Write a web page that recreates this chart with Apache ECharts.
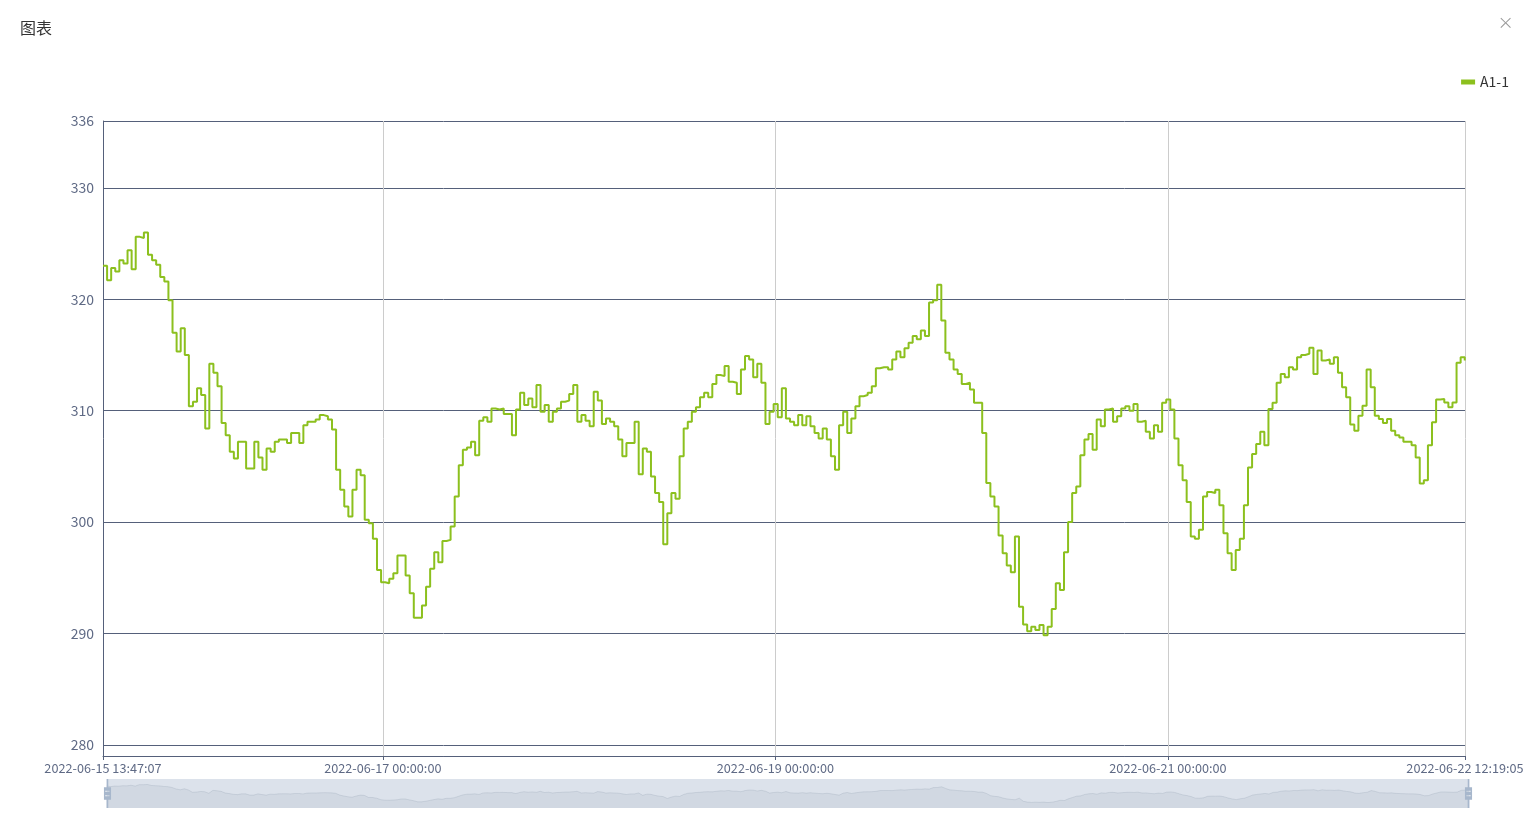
<!DOCTYPE html>
<html><head><meta charset="utf-8">
<script src="https://cdn.jsdelivr.net/npm/echarts@6/dist/echarts.min.js"></script>
<style>html,body{margin:0;padding:0;background:#fff}#c{width:1524px;height:824px}</style>
</head><body><div id="c"></div>
<script>
const chartTitle = '图表';
const closeGlyph = '×';
const seriesName = 'A1-1';
const startTime = '2022-06-15 13:47:07';
const endTime = '2022-06-22 12:19:05';
const xTickTimes = ['2022-06-15 13:47:07', '2022-06-17 00:00:00', '2022-06-19 00:00:00', '2022-06-21 00:00:00', '2022-06-22 12:19:05'];
const sampleStepMinutes = 30;
const yMin = 279;
const yMax = 336;
const values = [
323.0,321.7,322.8,322.5,323.5,323.2,324.4,322.7,325.6,325.5,
326.0,324.0,323.5,323.1,322.0,321.6,319.9,317.0,315.3,317.4,
315.0,310.4,310.8,312.0,311.4,308.4,314.2,313.4,312.2,308.9,
307.8,306.3,305.7,307.2,307.2,304.8,304.8,307.2,305.8,304.7,
306.6,306.3,307.2,307.4,307.4,307.1,308.0,308.0,307.1,308.7,
309.0,309.0,309.2,309.6,309.5,309.2,308.3,304.7,302.9,301.4,
300.5,302.9,304.7,304.2,300.2,299.9,298.5,295.7,294.6,294.5,
294.9,295.4,297.0,297.0,295.2,293.6,291.4,291.4,292.5,294.2,
295.8,297.3,296.4,298.3,298.4,299.6,302.3,305.1,306.5,306.7,
307.2,306.0,309.1,309.4,309.0,310.2,310.1,310.2,309.7,309.7,
307.8,310.1,311.6,310.5,311.1,310.3,312.3,309.9,310.5,309.0,
309.9,310.2,310.8,310.9,311.5,312.3,309.0,309.6,309.1,308.6,
311.7,310.9,308.8,309.3,309.0,308.6,307.4,305.9,307.1,307.1,
309.0,304.3,306.6,306.3,304.1,302.6,301.8,298.0,300.8,302.6,
302.1,305.9,308.4,309.0,309.9,310.3,311.2,311.6,311.2,312.4,
313.2,313.1,314.0,312.6,312.5,311.5,313.7,314.9,314.6,313.0,
314.2,312.5,308.8,309.9,310.6,309.4,312.0,309.3,309.0,308.7,
309.6,308.7,309.5,308.6,308.0,307.5,308.4,307.4,305.9,304.7,
308.7,309.9,308.0,309.3,310.4,311.3,311.4,311.6,312.2,313.8,
313.9,313.9,313.7,314.6,315.3,314.8,315.6,316.1,316.7,316.4,
317.2,316.7,319.7,319.9,321.3,318.1,315.2,314.6,313.7,313.3,
312.4,312.5,311.9,310.7,310.7,308.0,303.5,302.3,301.4,298.8,
297.2,296.1,295.5,298.7,292.4,290.8,290.2,290.6,290.3,290.75,
289.85,290.6,292.2,294.5,293.9,297.3,300.0,302.6,303.2,306.0,
307.4,307.9,306.5,309.2,308.6,310.1,310.2,309.0,309.5,310.2,
310.4,310.0,310.6,309.0,309.1,308.1,307.5,308.7,308.1,310.7,
311.0,310.1,307.5,305.1,303.75,301.8,298.7,298.5,299.3,302.3,
302.7,302.6,302.9,301.5,299.0,297.2,295.7,297.5,298.5,301.5,
304.9,306.1,307.0,308.1,306.9,310.15,310.7,312.5,313.3,313.0,
313.9,313.7,314.8,315.0,315.1,315.65,313.3,315.4,314.5,314.6,
314.2,314.8,313.4,312.1,311.2,308.75,308.2,309.55,310.45,313.7,
312.1,309.55,309.26,308.9,309.26,308.2,307.8,307.6,307.2,307.2,
306.9,305.8,303.45,303.75,306.9,308.96,311.0,311.04,310.74,310.3,
310.74,314.3,314.8,314.5
];

const parseT = s => echarts.number.parseDate(s).getTime();
const t0 = parseT(startTime);
const tEnd = parseT(endTime);
const stepMs = sampleStepMinutes * 60 * 1000;
const seriesData = values.map((v, i) => [t0 + i * stepMs, v]);
const xTicks = xTickTimes.map(parseT);

const axisDark = '#55607a';
const labelColor = '#5f6a85';
const fontFam = '"Noto Sans CJK SC", "Noto Sans", sans-serif';

const chart = echarts.init(document.getElementById('c'), null, {renderer: 'canvas'});
chart.setOption({
  animation: false,
  textStyle: {fontFamily: fontFam},
  title: {
    text: chartTitle, left: 15, top: 15,
    textStyle: {fontSize: 16, fontWeight: 'normal', color: '#333', fontFamily: fontFam}
  },
  graphic: [{
    type: 'text', right: 10, top: 14,
    style: {text: closeGlyph, fontSize: 20, fill: '#999', fontFamily: 'DejaVu Sans', fontWeight: 'lighter'}
  }],
  legend: {
    data: [seriesName], right: 10, top: 70,
    icon: 'rect', itemWidth: 14, itemHeight: 5, itemGap: 10,
    textStyle: {fontSize: 14, color: '#333', fontFamily: fontFam}
  },
  grid: {left: 103, right: 59, top: 121, bottom: 68, containLabel: false, outerBoundsMode: 'none'},
  xAxis: {
    type: 'value',
    min: t0, max: tEnd,
    scale: true,
    axisLine: {show: true, lineStyle: {color: axisDark}},
    axisTick: {show: true, length: 4, customValues: xTicks, lineStyle: {color: axisDark}},
    splitLine: {show: true, lineStyle: {color: '#cccccc', width: 1}},
    axisLabel: {
      customValues: xTicks,
      showMinLabel: true, showMaxLabel: true, hideOverlap: false,
      margin: 6,
      color: labelColor, fontSize: 12.7, fontFamily: fontFam,
      formatter: function (val) {
        return echarts.time.format(val, '{yyyy}-{MM}-{dd} {HH}:{mm}:{ss}', false);
      }
    }
  },
  yAxis: {
    type: 'value',
    min: yMin, max: yMax,
    axisLine: {show: true, lineStyle: {color: axisDark}},
    axisTick: {show: false},
    splitLine: {show: true, lineStyle: {color: axisDark, width: 1}},
    axisLabel: {color: labelColor, fontSize: 14, margin: 9, fontFamily: fontFam}
  },
  dataZoom: [{
    type: 'slider', xAxisIndex: 0, start: 0, end: 100,
    left: 104, right: 57, bottom: 16, height: 29,
    showDetail: false, brushSelect: false, moveHandleSize: 0,
    backgroundColor: 'rgba(47,69,84,0)',
    borderColor: 'transparent',
    fillerColor: 'rgba(167,183,204,0.4)',
    handleIcon: 'path://M8.2,13.6V3.9H6.3v9.7H3.1v14.9h3.3v9.7h1.8v-9.7h3.3V13.6H8.2z M9.7,24.4H4.8v-1.4h4.9V24.4z M9.7,19.1H4.8v-1.4h4.9V19.1z',
    handleSize: '100%',
    handleStyle: {color: '#a7b7cc', borderColor: '#a7b7cc', borderWidth: 0},
    dataBackground: {
      lineStyle: {color: '#2f4554', width: 0.5, opacity: 0.3},
      areaStyle: {color: 'rgba(47,69,84,0.3)', opacity: 0.3}
    },
    selectedDataBackground: {
      lineStyle: {color: '#2f4554', width: 0.5, opacity: 0.3},
      areaStyle: {color: 'rgba(47,69,84,0.3)', opacity: 0.3}
    }
  }],
  series: [{
    name: seriesName,
    type: 'line',
    step: 'end',
    showSymbol: false,
    symbol: 'none',
    data: seriesData,
    itemStyle: {color: '#8cc01e'},
    lineStyle: {color: '#8cc01e', width: 2}
  }]
});
</script>
</body></html>
